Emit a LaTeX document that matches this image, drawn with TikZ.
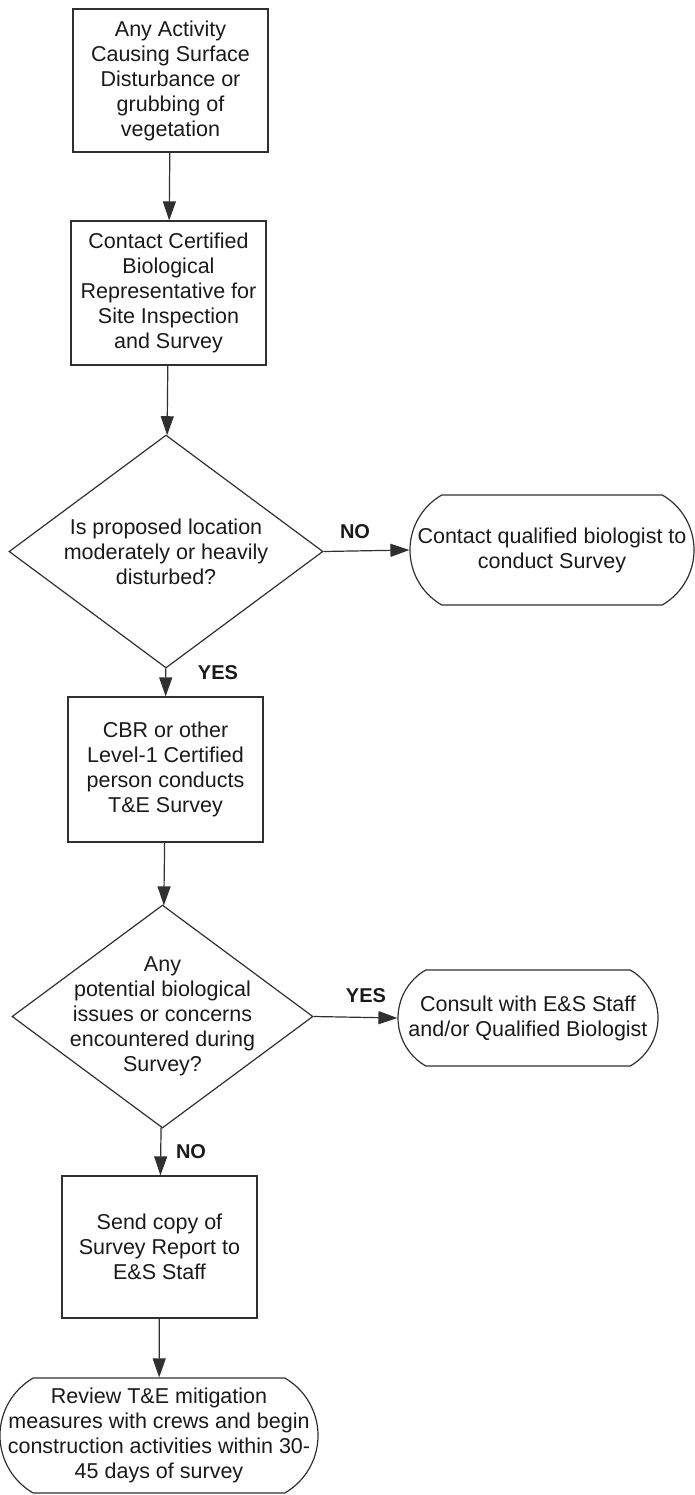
\documentclass[tikz,border=0pt]{standalone}
\usepackage{fontspec}
\setmainfont{Liberation Sans}
\usetikzlibrary{shapes.geometric,shapes.misc,arrows.meta}
\definecolor{ink}{HTML}{303030}
\definecolor{txt}{HTML}{1A1A1A}

\tikzset{
  words/.style={text=txt, align=center, font=\fontsize{21.5}{25}\selectfont},
  box/.style={draw=ink, line width=1.2pt, rectangle, inner sep=0pt, words},
  decision/.style={draw=ink, line width=1.2pt, diamond, inner sep=0pt},
  endcap/.style={draw=ink, line width=1.2pt, rounded rectangle,
    rounded rectangle arc length=120, inner sep=0pt},
  flow/.style={draw=ink, line width=1.2pt, -{Triangle[length=19pt,width=13pt]}},
  tag/.style={text=txt, font=\fontsize{20}{24}\selectfont\bfseries},
}

\begin{document}
\begin{tikzpicture}[x=1pt, y=-1pt]
  \useasboundingbox (0,0) rectangle (695,1495);

  % main column
  \node[box, minimum width=195pt, minimum height=143pt] (activity) at (170.5,80.5)
    {Any Activity\\Causing Surface\\Disturbance or\\grubbing of\\vegetation};
  \node[box, minimum width=195pt, minimum height=144pt] (cbrcall) at (168.5,293)
    {Contact Certified\\Biological\\Representative for\\Site Inspection\\and Survey};
  \node[decision, minimum width=314pt, minimum height=233pt,
    label={[words]center:{Is proposed location\\moderately or heavily\\disturbed?}}]
    (disturbed) at (166,551.5) {};
  \node[box, minimum width=195pt, minimum height=145pt] (tesurvey) at (165.5,769.5)
    {CBR or other\\Level-1 Certified\\person conducts\\T\&E Survey};
  \node[decision, minimum width=301pt, minimum height=223pt,
    label={[words]center:{Any\\potential biological\\issues or concerns\\encountered during\\Survey?}}]
    (issues) at (162.5,1016.5) {};
  \node[box, minimum width=195pt, minimum height=142pt] (report) at (159.5,1247)
    {Send copy of\\Survey Report to\\E\&S Staff};
  \node[endcap, minimum width=318pt, minimum height=115pt,
    label={[words]center:{Review T\&E mitigation\\measures with crews and begin\\construction activities within 30-\\45 days of survey}}]
    (review) at (159,1435.5) {};

  % side exits
  \node[endcap, minimum width=284pt, minimum height=110pt,
    label={[words]center:{Contact qualified biologist to\\conduct Survey}}]
    (biologist) at (552,550) {};
  \node[endcap, minimum width=260pt, minimum height=96pt,
    label={[words]center:{Consult with E\&S Staff\\and/or Qualified Biologist}}]
    (consult) at (528,1018) {};

  % connectors
  \draw[flow] (activity) -- (cbrcall);
  \draw[flow] (cbrcall) -- (disturbed);
  \draw[flow] (disturbed) -- (tesurvey);
  \draw[flow] (disturbed.east) -- (biologist.west);
  \draw[flow] (tesurvey) -- (issues);
  \draw[flow] (issues.east) -- (consult.west);
  \draw[flow] (issues) -- (report);
  \draw[flow] (report) -- (review);

  \node[tag] (no1) at (355,532) {NO};
  \node[tag] (yes1) at (218,673) {YES};
  \node[tag] (yes2) at (366,996) {YES};
  \node[tag] (no2) at (191,1152) {NO};
\end{tikzpicture}
\end{document}
